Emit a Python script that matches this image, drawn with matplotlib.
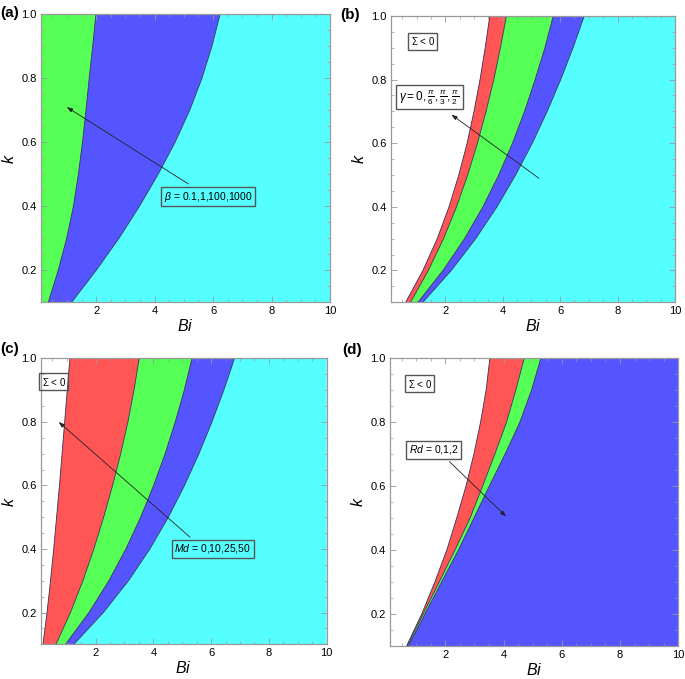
import numpy as np
import matplotlib
matplotlib.use("Agg")
import matplotlib.pyplot as plt
from matplotlib.ticker import MultipleLocator

plt.rcParams['font.family'] = ['Liberation Sans', 'DejaVu Sans']
plt.rcParams['mathtext.fontset'] = 'custom'
plt.rcParams['mathtext.rm'] = 'Liberation Sans'
plt.rcParams['mathtext.it'] = 'Liberation Sans:italic'
plt.rcParams['mathtext.bf'] = 'Liberation Sans:bold'

# k grid (vertical axis)
k_vals = [0.1, 0.2, 0.3, 0.4, 0.5, 0.6, 0.7, 0.8, 0.9, 1.0]

# Panel (a): beta = 0.1, 1, 100, 1000 -- boundary Bi values
a_b1 = [0.36, 0.70, 0.99, 1.22, 1.39, 1.53, 1.65, 1.76, 1.88, 1.99]
a_b2 = [1.16, 2.00, 2.78, 3.48, 4.12, 4.70, 5.20, 5.62, 5.96, 6.24]

# Panel (b): gamma = 0, pi/6, pi/3, pi/2
b_b1 = [0.62, 1.22, 1.72, 2.13, 2.47, 2.76, 3.00, 3.21, 3.39, 3.55]
b_b2 = [0.79, 1.41, 1.94, 2.39, 2.78, 3.12, 3.42, 3.69, 3.92, 4.13]
b_b3 = [1.05, 1.92, 2.67, 3.31, 3.86, 4.34, 4.76, 5.13, 5.47, 5.76]
b_b4 = [1.22, 2.21, 3.06, 3.80, 4.45, 5.03, 5.55, 6.02, 6.45, 6.84]

# Panel (c): Md = 0, 10, 25, 50
c_b1 = [0.18, 0.32, 0.44, 0.55, 0.65, 0.75, 0.84, 0.93, 1.02, 1.11]
c_b2 = [0.63, 1.13, 1.56, 1.94, 2.28, 2.59, 2.87, 3.12, 3.33, 3.51]
c_b3 = [0.96, 1.77, 2.46, 3.05, 3.56, 4.01, 4.41, 4.76, 5.07, 5.34]
c_b4 = [1.25, 2.27, 3.14, 3.88, 4.52, 5.08, 5.58, 6.03, 6.44, 6.81]

# Panel (d): Rd = 0, 1, 2
d_b1 = [0.67, 1.19, 1.64, 2.05, 2.39, 2.71, 2.98, 3.21, 3.40, 3.53]
d_b2 = [0.69, 1.24, 1.79, 2.33, 2.85, 3.28, 3.70, 4.10, 4.42, 4.71]
d_b3 = [0.73, 1.30, 1.87, 2.45, 2.98, 3.51, 4.05, 4.56, 4.96, 5.28]

bi_min, bi_max = 0.1, 10.0
k_min, k_max = 0.1, 1.0

RED = '#ff5555'
GREEN = '#55ff55'
BLUE = '#5555ff'
CYAN = '#55ffff'

fig = plt.figure(figsize=(6.85, 6.79), dpi=100)

positions = {
    'a': [0.0594, 0.5548, 0.4223, 0.4242],
    'b': [0.5704, 0.5548, 0.4150, 0.4217],
    'c': [0.0594, 0.0511, 0.4175, 0.4212],
    'd': [0.5693, 0.0486, 0.4209, 0.4237],
}


def fill_regions(ax, bounds, colors):
    k = np.array(k_vals)
    for i, col in enumerate(colors):
        if col is None:
            continue
        ax.fill_betweenx(k, bounds[i], bounds[i + 1], facecolor=col,
                         edgecolor='none', zorder=1)
    for b in bounds[1:-1]:
        ax.plot(b, k, color='#333355', lw=0.6, zorder=2)


def style(ax):
    ax.set_xlim(bi_min, bi_max)
    ax.set_ylim(k_min, k_max)
    ax.xaxis.set_minor_locator(MultipleLocator(0.5))
    ax.yaxis.set_minor_locator(MultipleLocator(0.05))
    ax.set_xticks([2, 4, 6, 8, 10])
    ax.set_yticks([0.2, 0.4, 0.6, 0.8, 1.0])
    ax.tick_params(which='both', direction='in', top=True, right=True,
                   colors='#999999', labelcolor='black', labelsize=8)
    ax.tick_params(which='major', length=4, width=0.6, pad=3)
    ax.tick_params(which='minor', length=2, width=0.5)
    for s in ax.spines.values():
        s.set_color('#999999')
        s.set_linewidth(0.9)
    ax.set_xlabel('$Bi$', fontsize=11.5, labelpad=1)
    ax.set_ylabel('$k$', fontsize=11.5, va='center', ha='center')
    ax.yaxis.set_label_coords(-0.11, 0.5)


def box_text(ax, x, y, s, fs=7.5):
    ax.text(x, y, s, fontsize=fs, ha='center', va='center', zorder=5,
            bbox=dict(boxstyle='square,pad=0.25', facecolor='none',
                      edgecolor='#555555', linewidth=1.0))


def arrow(ax, tail, head):
    ax.annotate('', xy=head, xytext=tail, zorder=6,
                arrowprops=dict(arrowstyle='-|>,head_length=0.35,head_width=0.12',
                                color='#222222', lw=0.6, shrinkA=0, shrinkB=0))


# (a)
ax = fig.add_axes(positions['a'])
fill_regions(ax, [bi_min, a_b1, a_b2, bi_max], [GREEN, BLUE, CYAN])
style(ax)
box_text(ax, 5.84, 0.43, r'$\beta$ = 0.1,1,100,1000')
arrow(ax, (5.15, 0.47), (0.99, 0.71))

# (b)
ax = fig.add_axes(positions['b'])
fill_regions(ax, [bi_min, b_b1, b_b2, b_b3, b_b4, bi_max], [None, RED, GREEN, BLUE, CYAN])
style(ax)
box_text(ax, 1.22, 0.92, r'$\Sigma$ < 0', fs=7)
box_text(ax, 1.45, 0.745, r'$\gamma = 0,\frac{\pi}{6},\frac{\pi}{3},\frac{\pi}{2}$', fs=8.5)
arrow(ax, (5.26, 0.49), (2.21, 0.69))

# (c)
ax = fig.add_axes(positions['c'])
fill_regions(ax, [bi_min, c_b1, c_b2, c_b3, c_b4, bi_max], [None, RED, GREEN, BLUE, CYAN])
style(ax)
box_text(ax, 0.55, 0.927, r'$\Sigma$ < 0', fs=7)
box_text(ax, 6.05, 0.40, r'$Md$ = 0,10,25,50')
arrow(ax, (5.27, 0.437), (0.72, 0.80))

# (d)
ax = fig.add_axes(positions['d'])
fill_regions(ax, [bi_min, d_b1, d_b2, d_b3, bi_max], [None, RED, GREEN, BLUE])
style(ax)
box_text(ax, 1.13, 0.92, r'$\Sigma$ < 0', fs=7)
box_text(ax, 1.60, 0.714, r'$Rd$ = 0,1,2')
arrow(ax, (2.14, 0.677), (4.09, 0.505))

# panel letters
fig.text(0.0, 1 - 13 / 679, '(a)', fontsize=11, fontweight='bold', ha='left', va='center')
fig.text(340 / 685, 1 - 15 / 679, '(b)', fontsize=11, fontweight='bold', ha='left', va='center')
fig.text(0.0, 1 - 349 / 679, '(c)', fontsize=11, fontweight='bold', ha='left', va='center')
fig.text(342 / 685, 1 - 350 / 679, '(d)', fontsize=11, fontweight='bold', ha='left', va='center')

fig.savefig('out.png', dpi=100)
